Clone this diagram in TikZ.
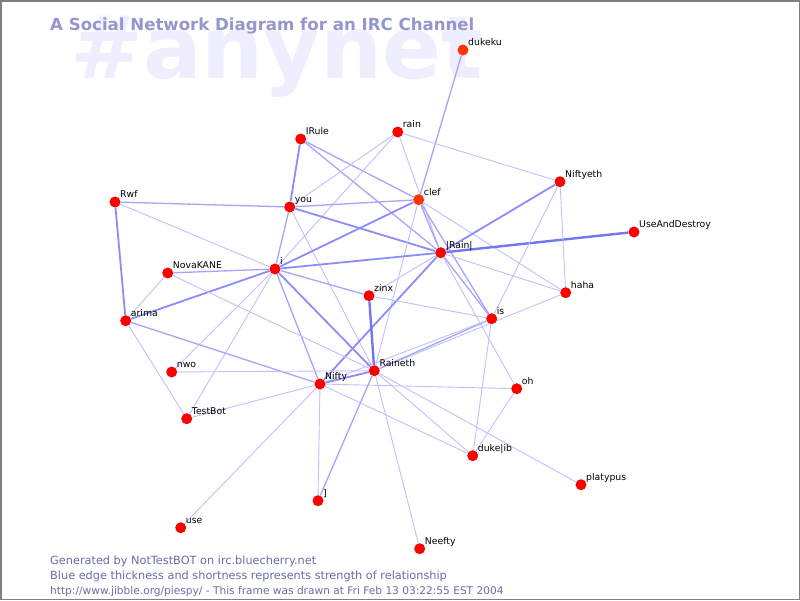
\documentclass[tikz,border=0pt]{standalone}
\usepackage{fontspec}
\setmainfont{DejaVu Sans}
\usetikzlibrary{backgrounds}
\definecolor{nodered}{RGB}{255,0,0}
\definecolor{nodeorange}{RGB}{255,52,0}
\definecolor{wmcol}{RGB}{238,238,255}
\definecolor{titlecol}{RGB}{150,150,206}
\definecolor{footcol}{RGB}{108,108,168}
\definecolor{framegray}{RGB}{128,128,128}
\definecolor{ecA}{RGB}{192,192,255}
\definecolor{ecB}{RGB}{165,165,252}
\definecolor{ecC}{RGB}{140,140,250}
\definecolor{ecD}{RGB}{118,118,245}
\newcommand\mkperson[5][person]{%
  \node[#1] (#2) at (#3,#4) {};
  \node[lab] (#2-l) at ([shift={(5pt,4.5pt)}]#2.center) {#5};}
\begin{document}
\begin{tikzpicture}[x=1pt,y=-1pt,
  person/.style={circle,fill=nodered,inner sep=0pt,minimum size=11pt},
  personb/.style={person,fill=nodeorange},
  lab/.style={anchor=base west,font=\fontsize{9.3}{10}\selectfont,inner sep=0pt,text=black},
  eA/.style={draw=ecA,line width=0.9pt},
  eB/.style={draw=ecB,line width=1.3pt},
  eC/.style={draw=ecC,line width=1.8pt},
  eD/.style={draw=ecD,line width=2.4pt},
  foot/.style={anchor=base west,inner sep=0pt,text=footcol}]
\useasboundingbox (0,0) rectangle (800,600);
\node[anchor=base west,inner sep=0pt,text=titlecol,font=\fontsize{16.6}{18}\selectfont\bfseries] (title) at (50,30) {A Social Network Diagram for an IRC Channel};
\node[foot,font=\fontsize{11.3}{12}\selectfont] (f1) at (50,564) {Generated by NotTestBOT on irc.bluecherry.net};
\node[foot,font=\fontsize{11.3}{12}\selectfont] (f2) at (50,579.5) {Blue edge thickness and shortness represents strength of relationship};
\node[foot,font=\fontsize{10.6}{12}\selectfont] (f3) at (50,594.5) {http://www.jibble.org/piespy/ - This frame was drawn at Fri Feb 13 03:22:55 EST 2004};
\draw[framegray,line width=1.5pt] (0.75,0.75) rectangle (799.25,599.25);

\mkperson[personb]{dukeku}{463}{50}{dukeku}
\mkperson{IRule}{300.7}{139}{IRule}
\mkperson{rain}{397.7}{132}{rain}
\mkperson{Rwf}{115}{202}{Rwf}
\mkperson{you}{289.7}{207}{you}
\mkperson[personb]{clef}{418.7}{199.7}{clef}
\mkperson{Rainb}{440.7}{252.7}{|Rain|}
\mkperson{Nova}{167.7}{273}{NovaKANE}
\mkperson{i}{275}{269}{i}
\mkperson{zinx}{369}{295.7}{zinx}
\mkperson{Niftyeth}{560}{181.7}{Niftyeth}
\mkperson{UAD}{634}{232}{UseAndDestroy}
\mkperson{haha}{565.7}{292.7}{haha}
\mkperson{is}{491.7}{318.7}{is}
\mkperson{arima}{125.7}{320.7}{arima}
\mkperson{nwo}{171.7}{372}{nwo}
\mkperson{Raineth}{374.3}{370.7}{Raineth}
\mkperson{Nifty}{320}{384}{Nifty}
\mkperson{TestBot}{186.7}{418.7}{TestBot}
\mkperson{oh}{516.7}{388.7}{oh}
\mkperson{dukelib}{472.7}{455.7}{duke|ib}
\mkperson{platypus}{581}{484.7}{platypus}
\mkperson{brk}{318}{500.7}{]}
\mkperson{use}{180.7}{527.7}{use}
\mkperson{Neefty}{419.7}{548.7}{Neefty}

\begin{scope}[on background layer]
\fill[white] (0,0) rectangle (800,600);
\node[anchor=base west,inner sep=0pt,text=wmcol,font=\fontsize{87}{87}\selectfont\bfseries] (wm) at (70,78) {\#anynet};
\draw[eB] (dukeku) -- (clef);
\draw[eC] (IRule) -- (you);
\draw[eB] (IRule) -- (clef);
\draw[eB] (IRule) -- (Rainb);
\draw[eA] (rain) -- (you);
\draw[eA] (rain) -- (i);
\draw[eA] (rain) -- (Rainb);
\draw[eA] (rain) -- (Niftyeth);
\draw[eB] (Rwf) -- (you);
\draw[eA] (Rwf) -- (i);
\draw[eC] (Rwf) -- (arima);
\draw[eB] (you) -- (clef);
\draw[eC] (you) -- (Rainb);
\draw[eB] (you) -- (i);
\draw[eA] (you) -- (Raineth);
\draw[eC] (clef) -- (i);
\draw[eB] (clef) -- (Rainb);
\draw[eB] (clef) -- (is);
\draw[eA] (clef) -- (haha);
\draw[eA] (clef) -- (Raineth);
\draw[eC] (Rainb) -- (i);
\draw[eD] (Rainb) -- (UAD);
\draw[eC] (Rainb) -- (Niftyeth);
\draw[eA] (Rainb) -- (haha);
\draw[eB] (Rainb) -- (is);
\draw[eA] (Rainb) -- (zinx);
\draw[eC] (Rainb) -- (Nifty);
\draw[eA] (Rainb) -- (oh);
\draw[eA] (Niftyeth) -- (is);
\draw[eA] (Niftyeth) -- (haha);
\draw[eA] (haha) -- (Raineth);
\draw[eB] (is) -- (Raineth);
\draw[eA] (is) -- (Nifty);
\draw[eD] (zinx) -- (Raineth);
\draw[eA] (zinx) -- (is);
\draw[eB] (zinx) -- (i);
\draw[eB] (i) -- (Nova);
\draw[eC] (i) -- (arima);
\draw[eA] (i) -- (nwo);
\draw[eA] (i) -- (TestBot);
\draw[eB] (i) -- (Nifty);
\draw[eC] (i) -- (Raineth);
\draw[eA] (Nova) -- (arima);
\draw[eA] (Nova) -- (Raineth);
\draw[eB] (arima) -- (Nifty);
\draw[eA] (arima) -- (TestBot);
\draw[eA] (nwo) -- (Raineth);
\draw[eA] (TestBot) -- (Nifty);
\draw[eC] (Nifty) -- (Raineth);
\draw[eA] (Nifty) -- (oh);
\draw[eA] (Nifty) -- (dukelib);
\draw[eA] (Nifty) -- (brk);
\draw[eA] (Nifty) -- (use);
\draw[eB] (Raineth) -- (brk);
\draw[eA] (Raineth) -- (Neefty);
\draw[eA] (Raineth) -- (dukelib);
\draw[eA] (Raineth) -- (platypus);
\draw[eA] (is) -- (dukelib);
\draw[eA] (oh) -- (dukelib);
\end{scope}
\end{tikzpicture}
\end{document}
